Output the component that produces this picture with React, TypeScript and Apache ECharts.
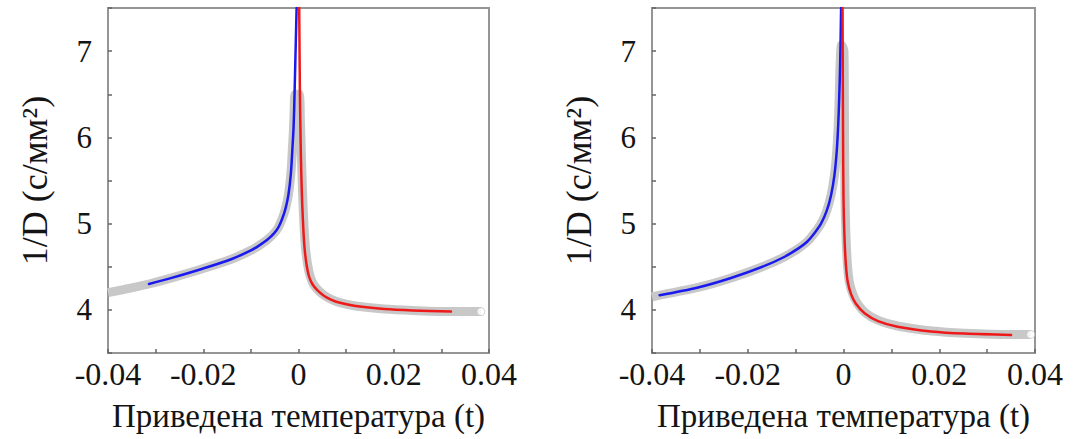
import React, { useEffect, useRef } from "react";
import * as echarts from "echarts";

// Reduced temperature t vs 1/D, two panels
const xLabelValues = [-0.04, -0.02, 0, 0.02, 0.04];
const yLabelValues = [4, 5, 6, 7];
const xTitle = "Приведена температура (t)";
const yTitle = "1/D (c/мм²)";

// ---- left panel ----
const leftGray: [number, number][] = [
  [-0.04, 4.2], [-0.035, 4.255], [-0.0314, 4.3], [-0.027, 4.365], [-0.02, 4.48],
  [-0.014, 4.59], [-0.01, 4.69], [-0.0083, 4.745], [-0.0065, 4.815], [-0.0051, 4.89],
  [-0.0042, 4.96], [-0.0034, 5.06], [-0.0027, 5.18], [-0.0021, 5.34], [-0.0016, 5.58],
  [-0.0013, 5.85], [-0.00105, 6.1], [-0.0009, 6.33], [-0.0007, 6.5], [0.0001, 6.5],
  [0.0004, 6.2], [0.0006, 5.8], [0.0008, 5.45], [0.001, 5.15], [0.00125, 4.88],
  [0.0015, 4.7], [0.0019, 4.53], [0.0024, 4.4], [0.0031, 4.3], [0.0042, 4.225],
  [0.0056, 4.16], [0.007, 4.12], [0.0087, 4.085], [0.012, 4.045], [0.018, 4.01],
  [0.024, 3.993], [0.032, 3.98], [0.0383, 3.98],
];
const leftBlue: [number, number][] = [
  [-0.0314, 4.3], [-0.027, 4.365], [-0.02, 4.48], [-0.014, 4.59], [-0.01, 4.69],
  [-0.0083, 4.745], [-0.0065, 4.815], [-0.0051, 4.89], [-0.0042, 4.96], [-0.0034, 5.06],
  [-0.0027, 5.18], [-0.0021, 5.34], [-0.0016, 5.58], [-0.0013, 5.85], [-0.00105, 6.1],
  [-0.0009, 6.35], [-0.0007, 6.8], [-0.0004, 7.5],
];
const leftRed: [number, number][] = [
  [0.00015, 7.5], [0.0003, 6.5], [0.00045, 5.95], [0.0006, 5.55], [0.0008, 5.2],
  [0.00105, 4.9], [0.0013, 4.7], [0.0017, 4.52], [0.0022, 4.39], [0.0029, 4.3],
  [0.004, 4.225], [0.0054, 4.16], [0.0068, 4.12], [0.0085, 4.085], [0.012, 4.045],
  [0.018, 4.01], [0.024, 3.993], [0.032, 3.98],
];
const leftEnd: [number, number][] = [[0.0383, 3.98]];

// ---- right panel ----
const rightGray: [number, number][] = [
  [-0.04, 4.15], [-0.0384, 4.17], [-0.0304, 4.26], [-0.0235, 4.37], [-0.0165, 4.51],
  [-0.0125, 4.61], [-0.0095, 4.71], [-0.0076, 4.79], [-0.0062, 4.88], [-0.0047, 5.0],
  [-0.0035, 5.15], [-0.0026, 5.33], [-0.0019, 5.56], [-0.0014, 5.85], [-0.0011, 6.15],
  [-0.0009, 6.45], [-0.0007, 6.85], [-0.0004, 7.07], [0.0001, 7.0], [0.0002, 6.2],
  [0.0003, 5.35], [0.0005, 4.88], [0.0008, 4.54], [0.0012, 4.33], [0.0019, 4.19],
  [0.0029, 4.075], [0.0046, 3.965], [0.0074, 3.875], [0.0115, 3.81], [0.0185, 3.755],
  [0.0253, 3.73], [0.035, 3.715], [0.0391, 3.715],
];
const rightBlue: [number, number][] = [
  [-0.0384, 4.17], [-0.0304, 4.26], [-0.0235, 4.37], [-0.0165, 4.51], [-0.0125, 4.61],
  [-0.0095, 4.71], [-0.0076, 4.79], [-0.0062, 4.88], [-0.0047, 5.0], [-0.0035, 5.15],
  [-0.0026, 5.33], [-0.0019, 5.56], [-0.0014, 5.85], [-0.0011, 6.15], [-0.0009, 6.45],
  [-0.0007, 6.85], [-0.0005, 7.5],
];
const rightRed: [number, number][] = [
  [-0.0002, 7.5], [-0.0001, 6.1], [0.0, 5.3], [0.0002, 4.85], [0.0005, 4.52],
  [0.0009, 4.32], [0.0016, 4.18], [0.0026, 4.07], [0.0044, 3.96], [0.0072, 3.87],
  [0.0113, 3.805], [0.0183, 3.75], [0.0253, 3.725], [0.035, 3.71],
];
const rightEnd: [number, number][] = [[0.0391, 3.715]];

const FONT = "'Liberation Serif', 'Times New Roman', serif";
const TEXT = "#141414";
const FRAME = "#959595";

function xFmt(v: number) {
  const hit = xLabelValues.some((t) => Math.abs(t - v) < 1e-6);
  if (!hit) return "";
  const n = Math.round(v * 100);
  return n === 0 ? "0" : (n / 100).toFixed(2);
}
function yFmt(v: number) {
  const hit = yLabelValues.some((t) => Math.abs(t - v) < 1e-6);
  return hit ? String(Math.round(v)) : "";
}

function makeX(gridIndex: number) {
  return {
    type: "value",
    gridIndex,
    min: -0.04,
    max: 0.04,
    interval: 0.01,
    name: xTitle,
    nameLocation: "middle",
    nameGap: 46,
    nameTextStyle: { fontFamily: FONT, fontSize: 33, color: TEXT },
    axisLine: { show: true, onZero: false, lineStyle: { color: FRAME, width: 2 } },
    axisTick: { show: true, inside: true, length: 4, lineStyle: { color: "#666", width: 1.5 } },
    axisLabel: { formatter: xFmt, fontFamily: FONT, fontSize: 32, color: TEXT, margin: 5 },
    splitLine: { show: false },
  };
}
function makeY(gridIndex: number) {
  return {
    type: "value",
    gridIndex,
    min: 3.5,
    max: 7.5,
    interval: 0.5,
    name: yTitle,
    nameLocation: "middle",
    nameGap: 55,
    nameRotate: 90,
    nameTextStyle: { fontFamily: FONT, fontSize: 36, color: TEXT },
    axisLine: { show: true, onZero: false, lineStyle: { color: FRAME, width: 2 } },
    axisTick: { show: true, inside: true, length: 4, lineStyle: { color: "#666", width: 1.5 } },
    axisLabel: { formatter: yFmt, fontFamily: FONT, fontSize: 31, color: TEXT, margin: 16 },
    splitLine: { show: false },
  };
}

function lineSeries(data: [number, number][], idx: number, color: string, width: number, z: number, cap: string) {
  return {
    type: "line",
    xAxisIndex: idx,
    yAxisIndex: idx,
    data,
    smooth: 0.3,
    showSymbol: false,
    symbol: "none",
    z,
    lineStyle: { color, width, cap, join: "round" },
  };
}
function endSeries(data: [number, number][], idx: number) {
  return {
    type: "scatter",
    xAxisIndex: idx,
    yAxisIndex: idx,
    data,
    symbol: "circle",
    symbolSize: 8,
    z: 4,
    itemStyle: { color: "#ffffff", borderColor: "#c4c4c4", borderWidth: 1 },
  };
}

export default function App() {
  const ref = useRef<HTMLDivElement>(null);
  useEffect(() => {
    document.body.style.margin = "0";
    if (!ref.current) return;
    const chart = echarts.init(ref.current, undefined, { renderer: "svg" });
    const GRAY = "#c8c8c8";
    const BLUE = "#1a1aee";
    const RED = "#ee1a1a";
    chart.setOption({
      animation: false,
      backgroundColor: "#ffffff",
      grid: [
        { left: 108, top: 8, width: 381, height: 345, show: true, borderColor: FRAME, borderWidth: 2 },
        { left: 652, top: 8, width: 383, height: 345, show: true, borderColor: FRAME, borderWidth: 2 },
      ],
      xAxis: [makeX(0), makeX(1)],
      yAxis: [makeY(0), makeY(1)],
      series: [
        lineSeries(leftGray, 0, GRAY, 9, 2, "butt"),
        lineSeries(leftBlue, 0, BLUE, 2.5, 3, "round"),
        lineSeries(leftRed, 0, RED, 2.5, 3, "round"),
        endSeries(leftEnd, 0),
        lineSeries(rightGray, 1, GRAY, 9, 2, "butt"),
        lineSeries(rightBlue, 1, BLUE, 2.5, 3, "round"),
        lineSeries(rightRed, 1, RED, 2.5, 3, "round"),
        endSeries(rightEnd, 1),
      ],
    });
    return () => chart.dispose();
  }, []);
  return <div ref={ref} style={{ width: 1073, height: 439 }} />;
}
